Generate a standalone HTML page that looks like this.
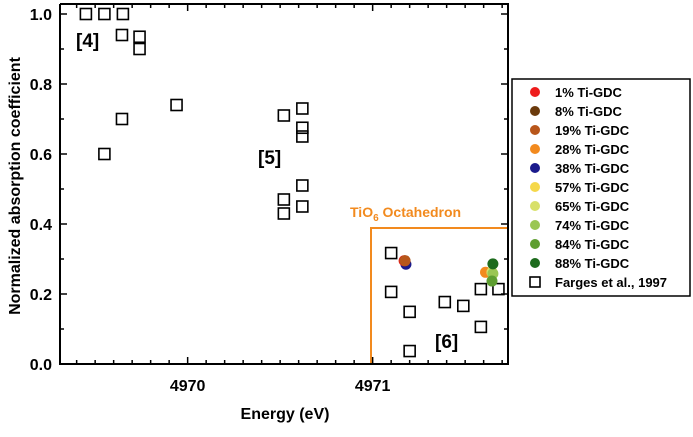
<!DOCTYPE html>
<html><head><meta charset="utf-8"><style>
body{margin:0;background:#fff;width:693px;height:432px;overflow:hidden}
svg text{font-family:"Liberation Sans",Arial,sans-serif;font-weight:bold}
</style></head><body>
<svg id="chart" width="693" height="432" xmlns="http://www.w3.org/2000/svg"></svg>
<script>
const xTicks=[4970,4971];
const yTicks=[0.0,0.2,0.4,0.6,0.8,1.0];
const fargesX=[4969.45,4969.55,4969.65,4969.645,4969.74,4969.74,4969.94,4969.645,4969.55,4970.52,4970.62,4970.62,4970.62,4970.62,4970.62,4970.52,4970.52,4971.10,4971.10,4971.20,4971.20,4971.39,4971.49,4971.585,4971.585,4971.68];
const fargesY=[1.0,1.0,1.0,0.94,0.935,0.90,0.74,0.70,0.60,0.71,0.73,0.675,0.65,0.51,0.45,0.47,0.43,0.317,0.206,0.149,0.037,0.177,0.166,0.214,0.106,0.214];
const sampleNames=["1% Ti-GDC","8% Ti-GDC","19% Ti-GDC","28% Ti-GDC","38% Ti-GDC","57% Ti-GDC","65% Ti-GDC","74% Ti-GDC","84% Ti-GDC","88% Ti-GDC"];
const sampleColors=["#ee1c1c","#6b3a0c","#b8561a","#f28a1e","#1a1a8c","#f5d84a","#d8e06a","#9ac653","#5e9e30","#1c6b1c"];
const sampleX=[4971.17,4971.175,4971.175,4971.61,4971.18,4971.645,4971.645,4971.65,4971.645,4971.65];
const sampleY=[0.295,0.295,0.295,0.262,0.285,0.262,0.262,0.258,0.237,0.286];
const drawOrder=[4,0,1,2,3,5,6,7,8,9];

const svg=document.getElementById('chart');
const NS="http://www.w3.org/2000/svg";
const L=60,R=508,T=4,B=364;
const x0=4969.31,pxPerEv=185;
function sx(v){return L+(v-x0)*pxPerEv;}
function sy(v){return B-v*350;}
function el(tag,attrs,parent){const e=document.createElementNS(NS,tag);for(const k in attrs)e.setAttribute(k,attrs[k]);(parent||svg).appendChild(e);return e;}

const ob=el('rect',{x:371,y:228,width:R-371,height:B-228,fill:'none',stroke:'#f28a1e','stroke-width':2});


const ot=el('text',{x:350,y:217,fill:'#f28a1e','font-size':14});


ot.innerHTML='TiO<tspan font-size="10" dy="4">6</tspan><tspan dy="-4"> Octahedron</tspan>';

const ax=el('path',{d:`M${L},${T}V${B}H${R}V${T}H${L}`,fill:'none',stroke:'#000','stroke-width':2});


for(let v=4969.4;v<4971.75;v+=0.1){const p=sx(v);if(p>R)break;const major=xTicks.some(t=>Math.abs(t-v)<0.01);
el('line',{x1:p,x2:p,y1:B,y2:B-(major?7:4),stroke:'#000','stroke-width':1.5});
el('line',{x1:p,x2:p,y1:T,y2:T+(major?7:4),stroke:'#000','stroke-width':1.5});}
xTicks.forEach(v=>{const t=el('text',{x:sx(v),y:B+27,'text-anchor':'middle','font-size':16});t.textContent=v;
});
for(let v=0;v<=1.0001;v+=0.1){const p=sy(v);const major=Math.round(v*10)%2===0;
el('line',{x1:L,x2:L+(major?7:4),y1:p,y2:p,stroke:'#000','stroke-width':1.5});
el('line',{x1:R,x2:R-(major?7:4),y1:p,y2:p,stroke:'#000','stroke-width':1.5});}
yTicks.forEach(v=>{const t=el('text',{x:L-8,y:sy(v)+6,'text-anchor':'end','font-size':16});t.textContent=v.toFixed(1);
});
const xt=el('text',{x:285,y:419,'text-anchor':'middle','font-size':16});xt.textContent='Energy (eV)';

const yt=el('text',{x:0,y:0,'text-anchor':'middle','font-size':16,transform:'translate(20,186) rotate(-90)'});yt.textContent='Normalized  absorption coefficient';


[['[4]',76,47],['[5]',258,164],['[6]',435,348]].forEach(a=>{const t=el('text',{x:a[1],y:a[2],'font-size':19});t.textContent=a[0];
});

fargesX.forEach((v,i)=>{const r=el('rect',{x:sx(v)-5.5,y:sy(fargesY[i])-5.5,width:11,height:11,fill:'none',stroke:'#000','stroke-width':1.6});
});
drawOrder.forEach(i=>{const c=el('circle',{cx:sx(sampleX[i]),cy:sy(sampleY[i]),r:5.5,fill:sampleColors[i]});
});

const lg=el('rect',{x:512,y:79,width:178,height:217,fill:'#fff',stroke:'#000','stroke-width':1.5});

sampleNames.forEach((n,i)=>{const y=92+i*19;
const c=el('circle',{cx:535,cy:y,r:5,fill:sampleColors[i]});
const t=el('text',{x:555,y:y+5,'font-size':13});t.textContent=n;});
const ls=el('rect',{x:530,y:277,width:10,height:10,fill:'none',stroke:'#000','stroke-width':1.6});
const lt=el('text',{x:555,y:287,'font-size':13});lt.textContent='Farges et al., 1997';
</script>
</body></html>
